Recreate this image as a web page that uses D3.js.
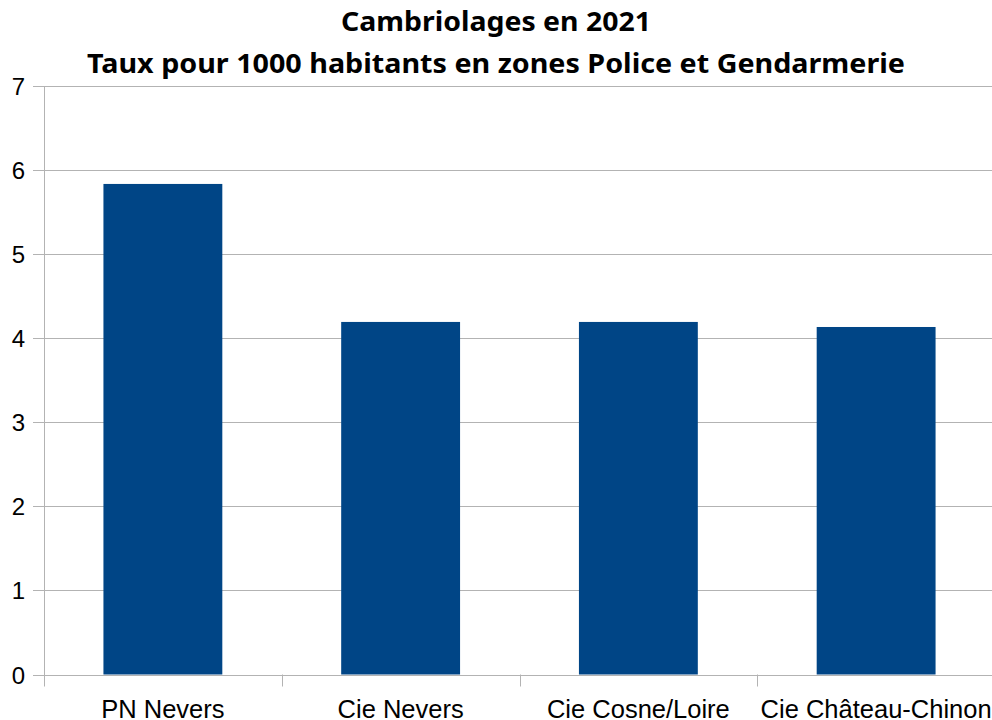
<!DOCTYPE html>
<html>
<head>
<meta charset="utf-8">
<script src="https://cdn.jsdelivr.net/npm/d3@7"></script>
<style>
  body { margin: 0; background: #fff; }
  svg { display: block; }
</style>
</head>
<body>
<div id="chart"></div>
<script>
'use strict'

const categories = ["PN Nevers", "Cie Nevers", "Cie Cosne/Loire", "Cie Château-Chinon"]
const rates = [5.83, 4.19, 4.19, 4.13]
const yTicks = [0, 1, 2, 3, 4, 5, 6, 7]
const titleLines = ["Cambriolages en 2021", "Taux pour 1000 habitants en zones Police et Gendarmerie"]

const width = 992, height = 720
const plotLeft = 44, plotRight = 995, plotTop = 85.5, plotBottom = 674.5
const gridColor = "#b3b3b3"
const barColor = "#004586"

const svg = d3.select("#chart").append("svg")
  .attr("width", width)
  .attr("height", height)

const x = d3.scaleBand().domain(categories).range([plotLeft, plotRight]).paddingInner(0.5).paddingOuter(0.25)
const xBound = d3.scaleLinear().domain([0, categories.length]).range([plotLeft, plotRight])
const y = d3.scaleLinear().domain([0, 7]).range([plotBottom, plotTop])

// horizontal gridlines + left ticks
svg.append("g")
  .selectAll("line")
  .data(yTicks)
  .enter().append("line")
    .attr("x1", plotLeft - 11)
    .attr("x2", plotRight)
    .attr("y1", d => Math.round(y(d)) + 0.5)
    .attr("y2", d => Math.round(y(d)) + 0.5)
    .attr("stroke", gridColor)
    .attr("stroke-width", 1)

// y axis line
svg.append("line")
  .attr("x1", plotLeft + 0.5).attr("x2", plotLeft + 0.5)
  .attr("y1", Math.round(y(7)) + 0.5).attr("y2", plotBottom + 12)
  .attr("stroke", gridColor)

// category boundary ticks
svg.append("g")
  .selectAll("line")
  .data(d3.range(1, categories.length + 1))
  .enter().append("line")
    .attr("x1", d => Math.round(xBound(d)) + 0.5)
    .attr("x2", d => Math.round(xBound(d)) + 0.5)
    .attr("y1", plotBottom)
    .attr("y2", plotBottom + 12)
    .attr("stroke", gridColor)

// bars
svg.append("g")
  .selectAll("rect")
  .data(categories)
  .enter().append("rect")
    .attr("x", d => x(d))
    .attr("width", x.bandwidth())
    .attr("y", (d, i) => y(rates[i]))
    .attr("height", (d, i) => y(0) - y(rates[i]))
    .attr("fill", barColor)

// y tick labels
svg.append("g")
  .selectAll("text")
  .data(yTicks)
  .enter().append("text")
    .attr("x", 25)
    .attr("y", d => y(d) + 9)
    .attr("text-anchor", "end")
    .attr("font-family", "Liberation Sans, Arial, sans-serif")
    .attr("font-size", 24)
    .attr("fill", "#000")
    .text(d => d)

// category labels (bottom edge clips descenders, as in the source)
svg.append("g")
  .selectAll("text")
  .data(categories)
  .enter().append("text")
    .attr("x", d => x(d) + x.bandwidth() / 2)
    .attr("y", 718)
    .attr("text-anchor", "middle")
    .attr("font-family", "Liberation Sans, Arial, sans-serif")
    .attr("font-size", 25.5)
    .attr("fill", "#000")
    .text(d => d)

// title
const titleWidths = [310, 818]
svg.append("g")
  .selectAll("text")
  .data(titleLines)
  .enter().append("text")
    .attr("x", 496)
    .attr("y", (d, i) => i == 0 ? 31 : 73)
    .attr("text-anchor", "middle")
    .attr("font-family", "Noto Sans, sans-serif")
    .attr("font-weight", "bold")
    .attr("font-size", 27)
    .attr("textLength", (d, i) => titleWidths[i])
    .attr("lengthAdjust", "spacingAndGlyphs")
    .attr("fill", "#000")
    .text(d => d)
</script>
</body>
</html>
